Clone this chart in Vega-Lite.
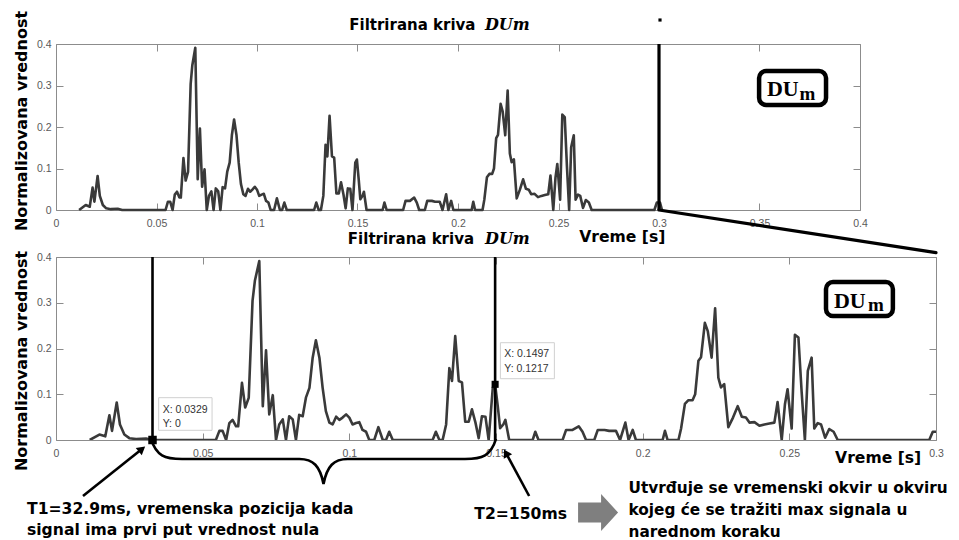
{
  "$schema": "https://vega.github.io/schema/vega-lite/v6.json",
  "padding": {"left": 13, "top": 10, "right": 0, "bottom": 0},
  "background": "white",
  "spacing": 47,
  "bounds": "flush",
  "datasets": {
    "sig": [
      {"t":0.0115,"v":0},{"t":0.0148,"v":0.012},{"t":0.0168,"v":0.008},{"t":0.0182,"v":0.054},{"t":0.0191,"v":0.02},
      {"t":0.0207,"v":0.082},{"t":0.0218,"v":0.034},{"t":0.0233,"v":0.012},{"t":0.025,"v":0.004},{"t":0.0273,"v":0.002},
      {"t":0.0307,"v":0.003},{"t":0.0329,"v":0},{"t":0.0545,"v":0},{"t":0.0557,"v":0.02},{"t":0.0568,"v":0.02},
      {"t":0.058,"v":0},{"t":0.0591,"v":0.037},{"t":0.0602,"v":0.044},{"t":0.0614,"v":0.03},{"t":0.0621,"v":0.03},
      {"t":0.0634,"v":0.125},{"t":0.0645,"v":0.071},{"t":0.0657,"v":0.092},{"t":0.067,"v":0.304},{"t":0.0678,"v":0.348},
      {"t":0.0693,"v":0.391},{"t":0.0705,"v":0.074},{"t":0.0716,"v":0.196},{"t":0.0727,"v":0.056},{"t":0.0739,"v":0.098},
      {"t":0.075,"v":0},{"t":0.0761,"v":0.034},{"t":0.0773,"v":0.045},{"t":0.0784,"v":0},{"t":0.0795,"v":0.052},
      {"t":0.0807,"v":0.045},{"t":0.0818,"v":0},{"t":0.0829,"v":0.055},{"t":0.0841,"v":0.052},{"t":0.0852,"v":0.0925},
      {"t":0.0864,"v":0.114},{"t":0.0875,"v":0.18},{"t":0.0886,"v":0.218},{"t":0.0898,"v":0.18},{"t":0.0909,"v":0.114},
      {"t":0.092,"v":0.063},{"t":0.0932,"v":0.038},{"t":0.0943,"v":0.034},{"t":0.0955,"v":0.051},{"t":0.0966,"v":0.044},
      {"t":0.0977,"v":0.049},{"t":0.0989,"v":0.056},{"t":0.1,"v":0.049},{"t":0.1011,"v":0.034},{"t":0.1023,"v":0.037},
      {"t":0.1034,"v":0.039},{"t":0.1045,"v":0.022},{"t":0.1057,"v":0.018},{"t":0.1068,"v":0},{"t":0.1085,"v":0},
      {"t":0.1099,"v":0.028},{"t":0.1114,"v":0},{"t":0.1125,"v":0},{"t":0.1136,"v":0.018},{"t":0.1148,"v":0},
      {"t":0.1284,"v":0},{"t":0.1295,"v":0.018},{"t":0.1307,"v":0},{"t":0.1318,"v":0},{"t":0.133,"v":0.034},
      {"t":0.1341,"v":0.157},{"t":0.135,"v":0.129},{"t":0.1361,"v":0.227},{"t":0.1373,"v":0.129},{"t":0.1384,"v":0.126},
      {"t":0.1395,"v":0.04},{"t":0.1407,"v":0.04},{"t":0.1418,"v":0.067},{"t":0.143,"v":0.038},{"t":0.1441,"v":0.004},
      {"t":0.1452,"v":0.052},{"t":0.1464,"v":0.051},{"t":0.1475,"v":0},{"t":0.1489,"v":0.114},{"t":0.1497,"v":0.1217},
      {"t":0.1506,"v":0.074},{"t":0.1514,"v":0.026},{"t":0.1525,"v":0.034},{"t":0.1532,"v":0.044},{"t":0.1545,"v":0},
      {"t":0.1625,"v":0},{"t":0.1634,"v":0.018},{"t":0.1645,"v":0},{"t":0.1727,"v":0},{"t":0.1739,"v":0.022},
      {"t":0.1761,"v":0.022},{"t":0.1782,"v":0.03},{"t":0.1795,"v":0.018},{"t":0.1807,"v":0},{"t":0.1835,"v":0},
      {"t":0.1847,"v":0.022},{"t":0.187,"v":0.022},{"t":0.1886,"v":0.02},{"t":0.1909,"v":0.02},{"t":0.1923,"v":0},
      {"t":0.1941,"v":0.038},{"t":0.1952,"v":0},{"t":0.1966,"v":0.022},{"t":0.1977,"v":0},{"t":0.2068,"v":0},
      {"t":0.2076,"v":0.02},{"t":0.2085,"v":0},{"t":0.2122,"v":0},{"t":0.2131,"v":0.025},{"t":0.2144,"v":0.079},
      {"t":0.2156,"v":0.087},{"t":0.217,"v":0.087},{"t":0.2179,"v":0.1},{"t":0.219,"v":0.173},{"t":0.2199,"v":0.181},
      {"t":0.2212,"v":0.256},{"t":0.2222,"v":0.238},{"t":0.2235,"v":0.18},{"t":0.2247,"v":0.288},{"t":0.2258,"v":0.136},
      {"t":0.2267,"v":0.115},{"t":0.2278,"v":0.122},{"t":0.2292,"v":0.028},{"t":0.2308,"v":0.049},{"t":0.2324,"v":0.074},
      {"t":0.2338,"v":0.051},{"t":0.2352,"v":0.049},{"t":0.2364,"v":0.038},{"t":0.2381,"v":0.039},{"t":0.2398,"v":0.031},
      {"t":0.2415,"v":0.034},{"t":0.2432,"v":0.036},{"t":0.2449,"v":0.038},{"t":0.246,"v":0.083},{"t":0.2474,"v":0},
      {"t":0.2485,"v":0.078},{"t":0.2494,"v":0.111},{"t":0.2508,"v":0.025},{"t":0.2519,"v":0.23},{"t":0.2531,"v":0.224},
      {"t":0.2542,"v":0.105},{"t":0.2553,"v":0},{"t":0.2563,"v":0.151},{"t":0.2576,"v":0.18},{"t":0.2585,"v":0.025},
      {"t":0.2597,"v":0.037},{"t":0.2608,"v":0.034},{"t":0.2622,"v":0.005},{"t":0.2636,"v":0.024},{"t":0.2651,"v":0.018},
      {"t":0.2665,"v":0},{"t":0.2977,"v":0},{"t":0.2989,"v":0.018},{"t":0.3005,"v":0.018},{"t":0.3015,"v":0}
    ]
  },
  "config": {
    "view": {"stroke": "#8c8c8c", "strokeWidth": 1},
    "axis": {"grid": false, "domain": false, "tickColor": "#8c8c8c", "tickSize": -7, "tickWidth": 1,
      "labelFont": "Liberation Sans", "labelFontSize": 10.5, "labelColor": "#595959",
      "labelFlush": false, "labelOverlap": false, "labelBound": false}
  },
  "vconcat": [
    {
      "width": 804, "height": 166,
      "data": {"values": [{}]},
      "resolve": {"axis": {"x": "independent", "y": "independent"}},
      "layer": [
        {"data": {"name": "sig"}, "mark": {"type": "line", "color": "#3a3a3a", "strokeWidth": 2.6, "strokeJoin": "round"},
          "encoding": {
            "x": {"field": "t", "type": "quantitative", "scale": {"domain": [0, 0.4], "nice": false, "zero": false},
              "axis": {"orient": "bottom", "title": null, "values": [0,0.05,0.1,0.15,0.2,0.25,0.3,0.35,0.4], "format": "~g", "labelPadding": 15}},
            "y": {"field": "v", "type": "quantitative", "scale": {"domain": [0, 0.4], "nice": false, "zero": false},
              "axis": {"orient": "left", "title": null, "values": [0,0.1,0.2,0.3,0.4], "format": "~g", "labelPadding": 12}}}},
        {"data": {"name": "sig"}, "mark": {"type": "point", "opacity": 0, "size": 0},
          "encoding": {
            "x": {"field": "t", "type": "quantitative", "axis": {"orient": "top", "title": null, "labels": false, "values": [0,0.05,0.1,0.15,0.2,0.25,0.3,0.35,0.4]}},
            "y": {"field": "v", "type": "quantitative", "axis": {"orient": "right", "title": null, "labels": false, "values": [0,0.1,0.2,0.3,0.4]}}}},
        {"mark": {"type": "rule", "color": "black", "strokeWidth": 3.2},
          "encoding": {"x": {"datum": 0.3, "axis": null}}},
        {"mark": {"type": "rule", "color": "black", "strokeWidth": 3.2, "strokeCap": "round"},
          "encoding": {"x": {"datum": 0.3, "axis": null}, "y": {"datum": 0, "axis": null}, "x2": {"datum": 0.4378}, "y2": {"datum": -0.1029}}},
        {"mark": {"type": "point", "shape": "square", "filled": true, "color": "black", "opacity": 1, "size": 10},
          "encoding": {"x": {"datum": 0.3005, "axis": null}, "y": {"datum": 0.4578, "axis": null}}},
        {"mark": {"type": "text", "text": "Filtrirana kriva", "align": "left", "baseline": "alphabetic", "font": "DejaVu Sans", "fontWeight": "bold", "fontSize": 15, "color": "black"},
          "encoding": {"x": {"datum": 0.1459, "axis": null}, "y": {"datum": 0.433, "axis": null}}},
        {"mark": {"type": "text", "text": "DUm", "align": "left", "baseline": "alphabetic", "font": "DejaVu Serif", "fontWeight": "bold", "fontStyle": "italic", "fontSize": 16, "color": "black"},
          "encoding": {"x": {"datum": 0.2134, "axis": null}, "y": {"datum": 0.433, "axis": null}}},
        {"mark": {"type": "text", "text": "Vreme [s]", "align": "left", "baseline": "alphabetic", "font": "DejaVu Sans", "fontWeight": "bold", "fontSize": 15.6, "color": "black"},
          "encoding": {"x": {"datum": 0.2603, "axis": null}, "y": {"datum": -0.0771, "axis": null}}},
        {"mark": {"type": "text", "text": "Normalizovana vrednost", "align": "center", "baseline": "alphabetic", "angle": 270, "font": "DejaVu Sans", "fontWeight": "bold", "fontSize": 16, "color": "black"},
          "encoding": {"x": {"datum": -0.01443, "axis": null}, "y": {"datum": 0.2145, "axis": null}}},
        {"mark": {"type": "rect", "fill": "white", "stroke": "black", "strokeWidth": 4.5, "cornerRadius": 7},
          "encoding": {"x": {"datum": 0.3498, "axis": null}, "x2": {"datum": 0.3831}, "y": {"datum": 0.3349, "axis": null}, "y2": {"datum": 0.253}}},
        {"mark": {"type": "text", "text": "DU", "align": "left", "baseline": "alphabetic", "font": "Liberation Serif", "fontWeight": "bold", "fontSize": 22, "color": "black"},
          "encoding": {"x": {"datum": 0.3537, "axis": null}, "y": {"datum": 0.2747, "axis": null}}},
        {"mark": {"type": "text", "text": "m", "align": "left", "baseline": "alphabetic", "font": "Liberation Serif", "fontWeight": "bold", "fontSize": 19, "color": "black"},
          "encoding": {"x": {"datum": 0.3699, "axis": null}, "y": {"datum": 0.2651, "axis": null}}}
      ]
    },
    {
      "width": 880, "height": 183,
      "data": {"values": [{}]},
      "resolve": {"axis": {"x": "independent", "y": "independent"}},
      "layer": [
        {"data": {"name": "sig"}, "mark": {"type": "line", "color": "#3a3a3a", "strokeWidth": 2.6, "strokeJoin": "round", "clip": true},
          "encoding": {
            "x": {"field": "t", "type": "quantitative", "scale": {"domain": [0, 0.3], "nice": false, "zero": false},
              "axis": {"orient": "bottom", "title": null, "values": [0,0.05,0.1,0.15,0.2,0.25,0.3], "format": "~g", "labelPadding": 15}},
            "y": {"field": "v", "type": "quantitative", "scale": {"domain": [0, 0.4], "nice": false, "zero": false},
              "axis": {"orient": "left", "title": null, "values": [0,0.1,0.2,0.3,0.4], "format": "~g", "labelPadding": 12}}}},
        {"data": {"name": "sig"}, "mark": {"type": "point", "opacity": 0, "size": 0},
          "encoding": {
            "x": {"field": "t", "type": "quantitative", "axis": {"orient": "top", "title": null, "labels": false, "values": [0,0.05,0.1,0.15,0.2,0.25,0.3]}},
            "y": {"field": "v", "type": "quantitative", "axis": {"orient": "right", "title": null, "labels": false, "values": [0,0.1,0.2,0.3,0.4]}}}},
        {"mark": {"type": "rule", "color": "black", "strokeWidth": 2.6},
          "encoding": {"x": {"datum": 0.0329, "axis": null}}},
        {"mark": {"type": "rule", "color": "black", "strokeWidth": 2.6},
          "encoding": {"x": {"datum": 0.1497, "axis": null}}},
        {"mark": {"type": "point", "shape": "square", "filled": true, "color": "black", "opacity": 1, "size": 72},
          "encoding": {"x": {"datum": 0.0329, "axis": null}, "y": {"datum": 0, "axis": null}}},
        {"mark": {"type": "point", "shape": "square", "filled": true, "color": "black", "opacity": 1, "size": 50},
          "encoding": {"x": {"datum": 0.1497, "axis": null}, "y": {"datum": 0.1217, "axis": null}}},
        {"mark": {"type": "rect", "fill": "white", "fillOpacity": 0.9, "stroke": "#d0d0d0", "strokeWidth": 1},
          "encoding": {"x": {"datum": 0.035, "axis": null}, "x2": {"datum": 0.0532}, "y": {"datum": 0.0925, "axis": null}, "y2": {"datum": 0.0212}}},
        {"mark": {"type": "text", "text": ["X: 0.0329", "Y: 0"], "lineHeight": 14.4, "align": "left", "baseline": "alphabetic", "font": "Liberation Sans", "fontSize": 10.5, "color": "#333333"},
          "encoding": {"x": {"datum": 0.03637, "axis": null}, "y": {"datum": 0.059, "axis": null}}},
        {"mark": {"type": "rect", "fill": "white", "fillOpacity": 0.9, "stroke": "#d0d0d0", "strokeWidth": 1},
          "encoding": {"x": {"datum": 0.1515, "axis": null}, "x2": {"datum": 0.1699}, "y": {"datum": 0.2127, "axis": null}, "y2": {"datum": 0.134}}},
        {"mark": {"type": "text", "text": ["X: 0.1497", "Y: 0.1217"], "lineHeight": 14.4, "align": "left", "baseline": "alphabetic", "font": "Liberation Sans", "fontSize": 10.5, "color": "#333333"},
          "encoding": {"x": {"datum": 0.1528, "axis": null}, "y": {"datum": 0.1808, "axis": null}}},
        {"mark": {"type": "point", "shape": "M -1 -0.128 C -0.97 -0.03 -0.92 -0.012 -0.82 -0.012 L -0.14 -0.012 C -0.06 -0.012 -0.02 0.03 0 0.133 C 0.02 0.03 0.06 -0.012 0.14 -0.012 L 0.82 -0.012 C 0.92 -0.012 0.97 -0.03 1 -0.128", "filled": false, "stroke": "black", "strokeWidth": 2.6, "opacity": 1, "size": 119025},
          "encoding": {"x": {"datum": 0.0912, "axis": null}, "y": {"datum": -0.0459, "axis": null}}},
        {"mark": {"type": "rule", "color": "black", "strokeWidth": 2.6},
          "encoding": {"x": {"datum": 0.0092, "axis": null}, "y": {"datum": -0.1224, "axis": null}, "x2": {"datum": 0.0293}, "y2": {"datum": -0.0197}}},
        {"mark": {"type": "point", "shape": "triangle-up", "filled": true, "color": "black", "opacity": 1, "size": 90, "angle": 50.5},
          "encoding": {"x": {"datum": 0.0293, "axis": null}, "y": {"datum": -0.0197, "axis": null}}},
        {"mark": {"type": "rule", "color": "black", "strokeWidth": 2.6},
          "encoding": {"x": {"datum": 0.1613, "axis": null}, "y": {"datum": -0.1224, "axis": null}, "x2": {"datum": 0.1534}, "y2": {"datum": -0.0284}}},
        {"mark": {"type": "point", "shape": "triangle-up", "filled": true, "color": "black", "opacity": 1, "size": 90, "angle": 331.6},
          "encoding": {"x": {"datum": 0.1534, "axis": null}, "y": {"datum": -0.0284, "axis": null}}},
        {"mark": {"type": "point", "shape": "M -1 -0.5 L 0.15 -0.5 L 0.15 -0.925 L 1 0 L 0.15 0.925 L 0.15 0.5 L -1 0.5 Z", "filled": true, "color": "#7f7f7f", "opacity": 1, "size": 1600},
          "encoding": {"x": {"datum": 0.1848, "axis": null}, "y": {"datum": -0.1585, "axis": null}}},
        {"mark": {"type": "text", "text": ["T1=32.9ms, vremenska pozicija kada", "signal ima prvi put vrednost nula"], "lineHeight": 21, "align": "left", "baseline": "alphabetic", "font": "DejaVu Sans", "fontWeight": "bold", "fontSize": 15.6, "color": "black"},
          "encoding": {"x": {"datum": -0.00989, "axis": null}, "y": {"datum": -0.1617, "axis": null}}},
        {"mark": {"type": "text", "text": "T2=150ms", "align": "left", "baseline": "alphabetic", "font": "DejaVu Sans", "fontWeight": "bold", "fontSize": 15.6, "color": "black"},
          "encoding": {"x": {"datum": 0.1426, "axis": null}, "y": {"datum": -0.1733, "axis": null}}},
        {"mark": {"type": "text", "text": ["Utvrđuje se vremenski okvir u okviru", "kojeg će se tražiti max signala u", "narednom koraku"], "lineHeight": 22.2, "align": "left", "baseline": "alphabetic", "font": "DejaVu Sans", "fontWeight": "bold", "fontSize": 15.3, "color": "black"},
          "encoding": {"x": {"datum": 0.1952, "axis": null}, "y": {"datum": -0.1148, "axis": null}}},
        {"mark": {"type": "text", "text": "Filtrirana kriva", "align": "left", "baseline": "alphabetic", "font": "DejaVu Sans", "fontWeight": "bold", "fontSize": 15, "color": "black"},
          "encoding": {"x": {"datum": 0.0995, "axis": null}, "y": {"datum": 0.4291, "axis": null}}},
        {"mark": {"type": "text", "text": "DUm", "align": "left", "baseline": "alphabetic", "font": "DejaVu Serif", "fontWeight": "bold", "fontStyle": "italic", "fontSize": 16, "color": "black"},
          "encoding": {"x": {"datum": 0.14625, "axis": null}, "y": {"datum": 0.4291, "axis": null}}},
        {"mark": {"type": "text", "text": "Vreme [s]", "align": "left", "baseline": "alphabetic", "font": "DejaVu Sans", "fontWeight": "bold", "fontSize": 15.6, "color": "black"},
          "encoding": {"x": {"datum": 0.2656, "axis": null}, "y": {"datum": -0.0496, "axis": null}}},
        {"mark": {"type": "text", "text": "Normalizovana vrednost", "align": "center", "baseline": "alphabetic", "angle": 270, "font": "DejaVu Sans", "fontWeight": "bold", "fontSize": 16, "color": "black"},
          "encoding": {"x": {"datum": -0.00989, "axis": null}, "y": {"datum": 0.1727, "axis": null}}},
        {"mark": {"type": "rect", "fill": "white", "stroke": "black", "strokeWidth": 4.5, "cornerRadius": 7},
          "encoding": {"x": {"datum": 0.2625, "axis": null}, "x2": {"datum": 0.2853}, "y": {"datum": 0.3453, "axis": null}, "y2": {"datum": 0.271}}},
        {"mark": {"type": "text", "text": "DU", "align": "left", "baseline": "alphabetic", "font": "Liberation Serif", "fontWeight": "bold", "fontSize": 22, "color": "black"},
          "encoding": {"x": {"datum": 0.2652, "axis": null}, "y": {"datum": 0.2892, "axis": null}}},
        {"mark": {"type": "text", "text": "m", "align": "left", "baseline": "alphabetic", "font": "Liberation Serif", "fontWeight": "bold", "fontSize": 19, "color": "black"},
          "encoding": {"x": {"datum": 0.2768, "axis": null}, "y": {"datum": 0.282, "axis": null}}}
      ]
    }
  ]
}
